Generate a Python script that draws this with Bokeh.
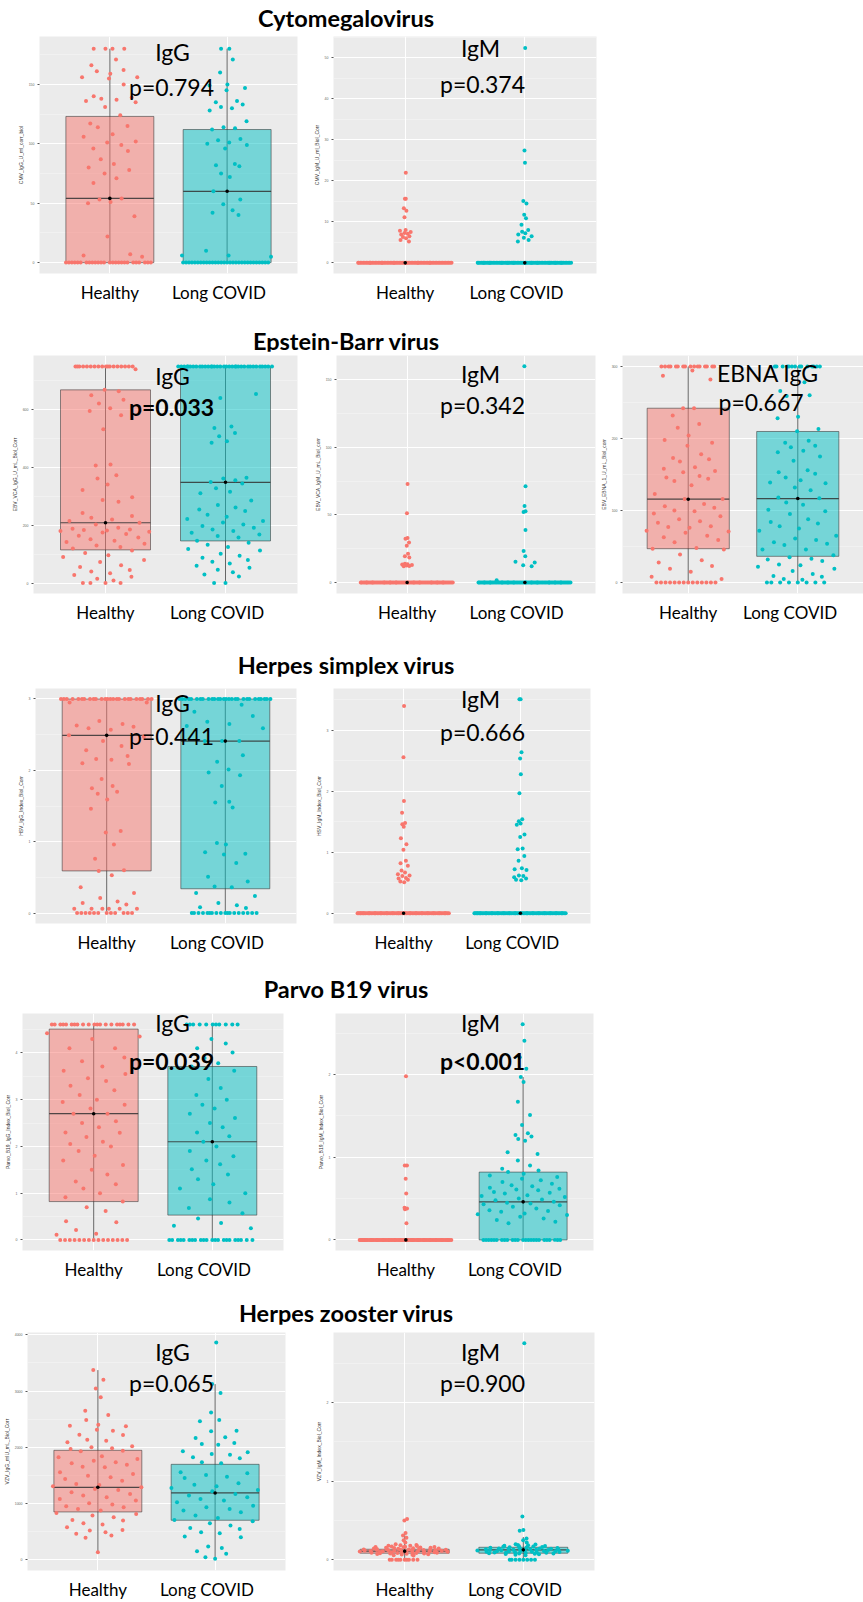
import numpy as np
from bokeh.plotting import figure
from bokeh.layouts import column, row
from bokeh.models import Div, Range1d, FixedTicker, Label
from bokeh.embed import file_html
from bokeh.resources import INLINE

# ---------------- data ----------------
GROUPS = ["Healthy", "Long COVID"]
COLORS = ["#F8766D", "#00BFC4"]
TITLES = ["Cytomegalovirus", "Epstein-Barr virus", "Herpes simplex virus",
          "Parvo B19 virus", "Herpes zooster virus"]

# box stats: [whisker_low, q1, median, q3, whisker_high]
# --- CMV IgG
CMV_IGG_TICKS = [0, 50, 100, 150]
CMV_IGG_RANGE = [-9.2, 190.3]
CMV_IGG_H = [180]*4 + [171, 166, 162, 161, 159, 156, 156, 155, 150, 140, 139, 138, 137, 136, 135, 131,
                       124, 117, 115, 114, 108, 106, 102, 101, 99, 96, 94, 87, 83, 80, 78, 75, 71, 67,
                       54, 53, 51, 50, 39, 22, 7, 6, 5] + [0]*26
CMV_IGG_LC = [180]*2 + [171, 160, 150, 149, 147, 145, 136, 135, 133, 131, 130, 128, 119, 114, 113, 112,
                        104, 103, 101, 100, 99, 96, 83, 82, 81, 75, 72, 60, 53, 49, 44, 42, 40,
                        10, 6, 6, 5] + [0]*30
CMV_IGG_BOX_H = [0, 0, 54, 123, 180]
CMV_IGG_BOX_LC = [0, 0, 60, 112, 180]

# --- CMV IgM
CMV_IGM_TICKS = [0, 10, 20, 30, 40, 50]
CMV_IGM_RANGE = [-2.6, 55.2]
CMV_IGM_H = [22.0, 15.6, 15.6, 13.3, 12.7, 11.1, 8.0, 7.8, 7.5, 7.3, 7.1, 6.9, 6.5, 6.3, 6.0, 5.6, 5.2] + [0]*70
CMV_IGM_LC = [52.4, 27.4, 24.4, 15.1, 14.5, 11.7, 10.9, 9.3, 8.0, 7.6, 7.2, 6.9, 6.5, 6.1, 5.6, 5.2] + [0]*75
CMV_IGM_BOX_H = [0, 0, 0, 0, 0]
CMV_IGM_BOX_LC = [0, 0, 0, 0, 0]

# --- EBV VCA IgG
EBV_IGG_TICKS = [0, 200, 400, 600]
EBV_IGG_RANGE = [-36, 788]
EBV_IGG_H = [750]*18 + [740, 669, 664, 650, 635, 622, 605, 596, 581, 533, 411, 407, 373, 362, 341, 322,
                        297, 288, 282, 243, 232, 226, 220, 215, 209, 203, 192, 188, 186, 184, 182, 180,
                        178, 175, 170, 164, 158, 152, 147, 142, 136, 130, 125, 120, 113, 104, 96, 90,
                        80, 73, 62, 56, 45, 40, 34, 28, 22, 15, 9, 0, 0, 0, 0]
EBV_IGG_LC = [750]*35 + [655, 641, 542, 537, 520, 508, 491, 486, 365, 362, 356, 350, 345, 328, 316, 311,
                         286, 270, 262, 255, 250, 237, 230, 222, 215, 210, 203, 198, 192, 186, 180, 174,
                         168, 163, 158, 147, 140, 133, 125, 118, 113, 102, 95, 88, 80, 74, 68, 60, 53,
                         46, 38, 30, 23, 0, 0]
EBV_IGG_BOX_H = [0, 115, 209, 669, 750]
EBV_IGG_BOX_LC = [0, 146, 349, 750, 750]

# --- EBV VCA IgM
EBV_IGM_TICKS = [0, 50, 100, 150]
EBV_IGM_RANGE = [-8.1, 168]
EBV_IGM_H = [72.9, 51.2, 33.0, 32.5, 29.6, 27.3, 21.4, 19.5, 18.5, 14.0, 13.6, 13.3, 12.9, 12.6, 12.3, 12.0] + [0]*75
EBV_IGM_LC = [160, 71.2, 56.7, 52.7, 52.2, 38.9, 23.4, 19.5, 15.3, 14.8, 12.8, 12.0, 1.7] + [0]*75
EBV_IGM_BOX_H = [0, 0, 0, 0, 0]
EBV_IGM_BOX_LC = [0, 0, 0, 0, 0]

# --- EBV EBNA IgG
EBNA_TICKS = [0, 100, 200, 300]
EBNA_RANGE = [-15.2, 315.2]
EBNA_H = [300]*16 + [294.5, 287, 282, 242, 242, 232, 220, 215, 204, 198, 194, 190, 178, 173, 171, 168,
                     160, 158, 155, 153, 148, 146, 144, 141, 135, 123, 116, 116, 109, 106, 104, 100, 99,
                     96, 92, 88, 85, 83, 78, 77, 76, 72, 71, 69, 65, 63, 59, 56, 48, 47, 46, 39, 31, 28,
                     23, 19, 15, 8, 5] + [0]*14
EBNA_LC = [300]*14 + [278, 266, 260, 259, 230, 228, 213, 210, 197, 194, 190, 188, 183, 181, 175, 169,
                      156, 153, 151, 146, 142, 139, 138, 132, 128, 118, 117, 111, 108, 101, 99, 95, 88,
                      84, 82, 78, 75, 72, 65, 61, 59, 56, 54, 52, 46, 46, 38, 35, 33, 32, 30, 25, 24,
                      22, 19, 16, 12, 9, 8, 5, 4] + [0]*8
EBNA_BOX_H = [0, 47, 115.7, 242, 300]
EBNA_BOX_LC = [0, 36.4, 116.6, 209.7, 300]

# --- HSV IgG
HSV_IGG_TICKS = [0, 1, 2, 3]
HSV_IGG_RANGE = [-0.147, 3.147]
HSV_IGG_H = [3.0]*25 + [2.95, 2.95, 2.69, 2.65, 2.63, 2.61, 2.59, 2.57, 2.49, 2.47, 2.41, 2.34, 2.28, 2.2,
                        2.16, 2.15, 2.1, 2.09, 1.88, 1.78, 1.75, 1.7, 1.67, 1.59, 1.46, 1.15, 1.13, 0.96,
                        0.76, 0.6, 0.59, 0.53, 0.36, 0.28, 0.21, 0.16, 0.14, 0.12, 0.06, 0.06, 0.06,
                        0.06, 0.06, 0.06] + [0]*12
HSV_IGG_LC = [3.0]*28 + [2.92, 2.82, 2.76, 2.68, 2.65, 2.62, 2.59, 2.41, 2.41, 2.41, 2.21, 2.12, 2.01,
                         1.97, 1.93, 1.78, 1.56, 1.55, 1.48, 0.98, 0.96, 0.85, 0.83, 0.82, 0.7, 0.51,
                         0.44, 0.37, 0.36, 0.28, 0.24, 0.14, 0.11, 0.08, 0.07] + [0]*18
HSV_IGG_BOX_H = [0, 0.59, 2.49, 3.0, 3.0]
HSV_IGG_BOX_LC = [0, 0.34, 2.41, 3.0, 3.0]

# --- HSV IgM
HSV_IGM_TICKS = [0, 1, 2, 3]
HSV_IGM_RANGE = [-0.168, 3.686]
HSV_IGM_H = [3.4, 2.56, 1.84, 1.65, 1.48, 1.46, 1.42, 1.23, 1.13, 1.04, 0.86, 0.82, 0.78, 0.70, 0.67,
             0.64, 0.62, 0.61, 0.58, 0.57, 0.55, 0.52, 0.51] + [0]*80
HSV_IGM_LC = [3.51, 3.51, 2.64, 2.54, 2.28, 1.97, 1.54, 1.51, 1.47, 1.45, 1.29, 1.25, 1.06, 1.05, 0.94,
              0.86, 0.74, 0.72, 0.71, 0.62, 0.61, 0.59, 0.57, 0.55, 0.54] + [0]*80
HSV_IGM_BOX_H = [0, 0, 0, 0, 0]
HSV_IGM_BOX_LC = [0, 0, 0, 0, 0]

# --- Parvo B19 IgG
PARVO_IGG_TICKS = [0, 1, 2, 3, 4]
PARVO_IGG_RANGE = [-0.227, 4.844]
PARVO_IGG_H = [4.61]*20 + [4.42, 4.35, 4.3, 4.1, 4.1, 3.9, 3.82, 3.71, 3.62, 3.55, 3.46, 3.4, 3.3, 3.2,
                           3.1, 3.0, 2.95, 2.89, 2.81, 2.7, 2.7, 2.54, 2.5, 2.41, 2.3, 2.29, 2.2, 2.1,
                           2.05, 2.0, 1.9, 1.8, 1.7, 1.6, 1.5, 1.4, 1.25, 1.19, 1.1, 1.0, 0.91, 0.82,
                           0.7, 0.62, 0.4, 0.38, 0.21, 0.13, 0.11] + [0]*15
PARVO_IGG_LC = [4.61]*11 + [4.3, 4.2, 4.1, 4.01, 3.89, 3.78, 3.71, 3.62, 3.44, 3.25, 3.1, 3.0, 2.89,
                            2.81, 2.7, 2.61, 2.5, 2.41, 2.3, 2.22, 2.1, 2.0, 1.9, 1.79, 1.7, 1.62, 1.51,
                            1.4, 1.3, 1.19, 1.1, 1.0, 0.87, 0.8, 0.68, 0.57, 0.46, 0.36, 0.3, 0.25] + [0]*22
PARVO_IGG_BOX_H = [0, 0.82, 2.70, 4.51, 4.61]
PARVO_IGG_BOX_LC = [0, 0.53, 2.1, 3.71, 4.61]

# --- Parvo B19 IgM
PARVO_IGM_TICKS = [0, 1, 2]
PARVO_IGM_RANGE = [-0.1285, 2.739]
PARVO_IGM_H = [1.98, 0.9, 0.9, 0.74, 0.56, 0.39, 0.38, 0.37, 0.2] + [0]*80
PARVO_IGM_LC = [2.61, 2.41, 2.21, 2.07, 1.97, 1.91, 1.67, 1.51, 1.39, 1.29, 1.27, 1.25, 1.22, 1.2, 1.06,
                1.04, 0.96, 0.9, 0.86, 0.84, 0.82, 0.8, 0.78, 0.76, 0.74, 0.72, 0.7, 0.68, 0.66, 0.65,
                0.63, 0.62, 0.61, 0.6, 0.58, 0.57, 0.56, 0.54, 0.53, 0.52, 0.5, 0.49, 0.48, 0.46, 0.45,
                0.44, 0.43, 0.42, 0.4, 0.38, 0.36, 0.35, 0.34, 0.32, 0.31, 0.3, 0.28, 0.26, 0.24, 0.22,
                0.2] + [0]*25
PARVO_IGM_BOX_H = [0, 0, 0, 0, 0]
PARVO_IGM_BOX_LC = [0, 0, 0.46, 0.82, 1.97]

# --- VZV IgG
VZV_IGG_TICKS = [0, 1000, 2000, 3000, 4000]
VZV_IGG_RANGE = [-189, 4041]
VZV_IGG_H = [3373, 3201, 3047, 2888, 2651, 2574, 2485, 2402, 2385, 2373, 2314, 2296, 2225, 2219, 2136,
             2118, 2089, 2018, 2000, 1982, 1970, 1941, 1929, 1840, 1822, 1793, 1763, 1734, 1716, 1692,
             1657, 1645, 1556, 1527, 1497, 1467, 1438, 1408, 1349, 1331, 1308, 1290, 1260, 1243, 1201,
             1172, 1142, 1112, 1083, 1053, 1006, 982, 953, 935, 905, 876, 834, 817, 787, 757, 710, 698,
             651, 627, 580, 533, 521, 491, 462, 432, 391, 136]
VZV_IGG_LC = [3864, 3124, 2964, 2621, 2485, 2462, 2296, 2284, 2178, 2166, 2077, 2059, 2047, 1929, 1911,
              1882, 1870, 1822, 1805, 1734, 1716, 1556, 1538, 1509, 1479, 1456, 1361, 1337, 1308, 1278,
              1243, 1219, 1172, 1142, 1112, 1083, 1053, 1024, 964, 935, 905, 876, 846, 787, 746, 710,
              686, 651, 609, 568, 550, 491, 473, 414, 402, 237, 213, 154, 107, 47, 18]
VZV_IGG_BOX_H = [136, 852, 1290, 1947, 3373]
VZV_IGG_BOX_LC = [18, 704, 1189, 1698, 3124]

# --- VZV IgM
VZV_IGM_TICKS = [0, 1, 2]
VZV_IGM_RANGE = [-0.135, 2.888]
VZV_IGM_H = [0.52, 0.50, 0.34, 0.31, 0.28, 0.25, 0.22, 0.20, 0.19, 0.185, 0.18, 0.178, 0.175, 0.17,
             0.168, 0.165, 0.163, 0.16, 0.158, 0.155, 0.153, 0.15, 0.148, 0.146, 0.144, 0.142, 0.14,
             0.139, 0.137, 0.135, 0.133, 0.131, 0.13, 0.128, 0.126, 0.125, 0.123, 0.121, 0.12, 0.118,
             0.117, 0.115, 0.113, 0.112, 0.11, 0.109, 0.107, 0.106, 0.104, 0.102, 0.1, 0.099, 0.097,
             0.095, 0.094, 0.092, 0.09, 0.088, 0.086, 0.084, 0.082, 0.08, 0.078, 0.075, 0.072, 0.068,
             0.064, 0.06, 0.055] + [0]*10
VZV_IGM_LC = [2.75, 0.55, 0.38, 0.37, 0.27, 0.25, 0.22, 0.20, 0.195, 0.19, 0.185, 0.18, 0.177, 0.173,
              0.17, 0.167, 0.164, 0.16, 0.157, 0.154, 0.151, 0.148, 0.145, 0.143, 0.14, 0.138, 0.136,
              0.134, 0.132, 0.13, 0.128, 0.126, 0.124, 0.122, 0.12, 0.118, 0.116, 0.114, 0.112, 0.11,
              0.108, 0.106, 0.104, 0.102, 0.1, 0.098, 0.096, 0.094, 0.092, 0.09, 0.088, 0.085, 0.082,
              0.08, 0.077, 0.074, 0.07, 0.065, 0.06] + [0]*8
VZV_IGM_BOX_H = [0, 0.085, 0.11, 0.135, 0.34]
VZV_IGM_BOX_LC = [0, 0.085, 0.127, 0.16, 0.29]

PANEL_DATA = {
    "cmv_igg": dict(h=CMV_IGG_H, lc=CMV_IGG_LC, bh=CMV_IGG_BOX_H, blc=CMV_IGG_BOX_LC, ticks=CMV_IGG_TICKS,
                    yr=CMV_IGG_RANGE, ylab="CMV_IgG_U_ml_corr_biol", ig="IgG", p="p=0.794", bold=False),
    "cmv_igm": dict(h=CMV_IGM_H, lc=CMV_IGM_LC, bh=CMV_IGM_BOX_H, blc=CMV_IGM_BOX_LC, ticks=CMV_IGM_TICKS,
                    yr=CMV_IGM_RANGE, ylab="CMV_IgM_U_ml_Biol_Corr", ig="IgM", p="p=0.374", bold=False),
    "ebv_igg": dict(h=EBV_IGG_H, lc=EBV_IGG_LC, bh=EBV_IGG_BOX_H, blc=EBV_IGG_BOX_LC, ticks=EBV_IGG_TICKS,
                    yr=EBV_IGG_RANGE, ylab="EBV_VCA_IgG_U_mL_Biol_Corr", ig="IgG", p="p=0.033", bold=True),
    "ebv_igm": dict(h=EBV_IGM_H, lc=EBV_IGM_LC, bh=EBV_IGM_BOX_H, blc=EBV_IGM_BOX_LC, ticks=EBV_IGM_TICKS,
                    yr=EBV_IGM_RANGE, ylab="EBV_VCA_IgM_U_mL_Biol_corr", ig="IgM", p="p=0.342", bold=False),
    "ebna": dict(h=EBNA_H, lc=EBNA_LC, bh=EBNA_BOX_H, blc=EBNA_BOX_LC, ticks=EBNA_TICKS,
                 yr=EBNA_RANGE, ylab="EBV_EBNA_1_U_mL_Biol_corr", ig="EBNA IgG", p="p=0.667", bold=False),
    "hsv_igg": dict(h=HSV_IGG_H, lc=HSV_IGG_LC, bh=HSV_IGG_BOX_H, blc=HSV_IGG_BOX_LC, ticks=HSV_IGG_TICKS,
                    yr=HSV_IGG_RANGE, ylab="HSV_IgG_Index_Biol_Corr", ig="IgG", p="p=0.441", bold=False),
    "hsv_igm": dict(h=HSV_IGM_H, lc=HSV_IGM_LC, bh=HSV_IGM_BOX_H, blc=HSV_IGM_BOX_LC, ticks=HSV_IGM_TICKS,
                    yr=HSV_IGM_RANGE, ylab="HSV_IgM_Index_Biol_Corr", ig="IgM", p="p=0.666", bold=False),
    "parvo_igg": dict(h=PARVO_IGG_H, lc=PARVO_IGG_LC, bh=PARVO_IGG_BOX_H, blc=PARVO_IGG_BOX_LC,
                      ticks=PARVO_IGG_TICKS, yr=PARVO_IGG_RANGE, ylab="Parvo_B19_IgG_Index_Biol_Corr",
                      ig="IgG", p="p=0.039", bold=True),
    "parvo_igm": dict(h=PARVO_IGM_H, lc=PARVO_IGM_LC, bh=PARVO_IGM_BOX_H, blc=PARVO_IGM_BOX_LC,
                      ticks=PARVO_IGM_TICKS, yr=PARVO_IGM_RANGE, ylab="Parvo_B19_IgM_Index_Biol_Corr",
                      ig="IgM", p="p<0.001", bold=True),
    "vzv_igg": dict(h=VZV_IGG_H, lc=VZV_IGG_LC, bh=VZV_IGG_BOX_H, blc=VZV_IGG_BOX_LC, ticks=VZV_IGG_TICKS,
                    yr=VZV_IGG_RANGE, ylab="VZV_IgG_mIU_mL_Biol_Corr", ig="IgG", p="p=0.065", bold=False),
    "vzv_igm": dict(h=VZV_IGM_H, lc=VZV_IGM_LC, bh=VZV_IGM_BOX_H, blc=VZV_IGM_BOX_LC, ticks=VZV_IGM_TICKS,
                    yr=VZV_IGM_RANGE, ylab="VZV_IgM_Index_Biol_Corr", ig="IgM", p="p=0.900", bold=False),
}

# ---------------- layout (page pixel geometry; the page origin is the window corner) ----------------
# div: (top, bottom, title line center); fig: (left, right); frame: (left, right, top, bottom)
ROWS = [
    dict(title=TITLES[0], div=(0, 30, 18), figs=(30, 331), panels=[
        dict(key="cmv_igg", fig=(0, 305), frame=(39, 297, 33, 273), ann=((172, 49), (171, 84))),
        dict(key="cmv_igm", fig=(305, 610), frame=(333, 596, 36, 274), ann=((480, 48), (482, 84))),
    ]),
    dict(title=TITLES[1], div=(331, 351, 341), figs=(351, 654), panels=[
        dict(key="ebv_igg", fig=(0, 300), frame=(33, 297, 351, 594), ann=((172, 372), (171, 404))),
        dict(key="ebv_igm", fig=(300, 597), frame=(336, 595, 355, 593), ann=((480, 373), (482, 404))),
        dict(key="ebna", fig=(597, 863), frame=(616, 863, 354, 593), ann=((765, 372), (758, 401))),
    ]),
    dict(title=TITLES[2], div=(654, 676, 665), figs=(676, 978), panels=[
        dict(key="hsv_igg", fig=(0, 305), frame=(35, 296, 684, 923), ann=((172, 699), (171, 732))),
        dict(key="hsv_igm", fig=(305, 610), frame=(333, 590, 688, 926), ann=((480, 699), (482, 732))),
    ]),
    dict(title=TITLES[3], div=(978, 1000, 989), figs=(1000, 1302), panels=[
        dict(key="parvo_igg", fig=(0, 300), frame=(22, 283, 1012, 1250), ann=((172, 1022), (171, 1060))),
        dict(key="parvo_igm", fig=(300, 610), frame=(335, 593, 1013, 1251), ann=((480, 1023), (482, 1061))),
    ]),
    dict(title=TITLES[4], div=(1302, 1324, 1313), figs=(1324, 1602), panels=[
        dict(key="vzv_igg", fig=(0, 300), frame=(27, 285, 1332, 1570), ann=((172, 1351), (171, 1382))),
        dict(key="vzv_igm", fig=(300, 610), frame=(333, 594, 1332, 1570), ann=((480, 1351), (482, 1382))),
    ]),
]
TITLE_CENTER_X = 346
LABEL_TICKS = [1.0, 1.93]   # where the pasted-in group labels sit under the panels

FONT = "Lato"
XR = (0.4, 2.6)
HALF_BOX = 0.375


def vdc(n, base=2):
    v, denom = 0.0, 1.0
    while n:
        denom *= base
        n, r = divmod(n, base)
        v += r / denom
    return v


def quasirandom_offsets(vals, max_w=0.4):
    """Deterministic density-scaled horizontal offsets (like ggbeeswarm quasirandom)."""
    y = np.asarray(vals, float)
    n = len(y)
    sd = y.std(ddof=1) if n > 1 else 1.0
    q75, q25 = np.percentile(y, [75, 25])
    lo = min(sd, (q75 - q25) / 1.34)
    if lo <= 0:
        lo = sd if sd > 0 else 1.0
    bw = 0.9 * lo * n ** -0.2
    d = np.exp(-0.5 * ((y[:, None] - y[None, :]) / bw) ** 2).sum(1)
    w = max_w * d / d.max()
    order = np.argsort(y, kind="stable")
    off = np.empty(n)
    for k, idx in enumerate(order):
        off[idx] = (vdc(k + 1) * 2 - 1) * w[idx]
    return off


def make_panel(spec, fig_top, fig_bottom):
    D = PANEL_DATA[spec["key"]]
    fx0, fx1, fy0, fy1 = spec["frame"]
    gx0, gx1 = spec["fig"]
    ylo, yhi = D["yr"]
    p = figure(width=gx1 - gx0, height=fig_bottom - fig_top,
               x_range=Range1d(*XR), y_range=Range1d(ylo, yhi),
               output_backend="svg", toolbar_location=None,
               min_border_left=fx0 - gx0, min_border_right=gx1 - fx1,
               min_border_top=fy0 - fig_top, min_border_bottom=fig_bottom - fy1,
               background_fill_color="#EBEBEB", border_fill_color="white",
               outline_line_color=None)
    ticks = D["ticks"]
    step = ticks[1] - ticks[0]
    minors = [t + step / 2 for t in ticks] + [ticks[0] - step / 2]
    minors = [m for m in minors if ylo < m < yhi]
    p.yaxis.ticker = FixedTicker(ticks=ticks, minor_ticks=minors)
    p.xaxis.ticker = FixedTicker(ticks=LABEL_TICKS)
    p.xaxis.major_label_overrides = {LABEL_TICKS[0]: GROUPS[0], LABEL_TICKS[1]: GROUPS[1]}
    p.xgrid.ticker = FixedTicker(ticks=[1, 2])
    p.xgrid.grid_line_color = "white"
    p.xgrid.grid_line_width = 1
    p.ygrid.grid_line_color = "white"
    p.ygrid.grid_line_width = 1
    p.ygrid.minor_grid_line_color = "white"
    p.ygrid.minor_grid_line_alpha = 0.6
    p.ygrid.minor_grid_line_width = 0.5

    xa = p.xaxis[0]
    xa.axis_line_color = None
    xa.major_tick_out = 0
    xa.major_tick_in = 0
    xa.minor_tick_line_color = None
    xa.major_label_text_font = FONT
    xa.major_label_text_font_size = "17px"
    xa.major_label_text_color = "black"
    xa.major_label_standoff = 8

    ya = p.yaxis[0]
    ya.axis_line_color = None
    ya.major_tick_out = 2
    ya.major_tick_in = 0
    ya.major_tick_line_color = "#555555"
    ya.minor_tick_line_color = None
    ya.major_label_text_font_size = "3.5px"
    ya.major_label_text_color = "#666666"
    ya.major_label_standoff = 1
    ya.axis_label = D["ylab"]
    ya.axis_label_text_font_size = "5px"
    ya.axis_label_text_font_style = "normal"
    ya.axis_label_text_color = "#333333"
    ya.axis_label_standoff = 2

    for gi, (vals, box) in enumerate([(D["h"], D["bh"]), (D["lc"], D["blc"])]):
        cx = gi + 1
        wlo, q1, med, q3, whi = box
        p.segment(x0=[cx], y0=[wlo], x1=[cx], y1=[whi], line_color="#333333",
                  line_alpha=0.75, line_width=1)
        p.quad(left=[cx - HALF_BOX], right=[cx + HALF_BOX], bottom=[q1], top=[q3],
               fill_color=COLORS[gi], fill_alpha=0.5, line_color="#333333",
               line_alpha=0.55, line_width=1)
        p.segment(x0=[cx - HALF_BOX], y0=[med], x1=[cx + HALF_BOX], y1=[med],
                  line_color="#333333", line_alpha=0.85, line_width=1.2)
        off = quasirandom_offsets(vals)
        xs = cx + off
        p.scatter(x=list(xs), y=list(vals), size=4, fill_color=COLORS[gi],
                  line_color=None)
        p.scatter(x=[cx], y=[med], size=3.6, fill_color="black", line_color=None)

    def to_data(px, py):
        x = XR[0] + (px - fx0) / (fx1 - fx0) * (XR[1] - XR[0])
        y = yhi - (py - fy0) / (fy1 - fy0) * (yhi - ylo)
        return x, y

    (ax, ay), (bx, by) = spec["ann"]
    x1, y1 = to_data(ax, ay)
    x2, y2 = to_data(bx, by)
    p.add_layout(Label(x=x1, y=y1, text=D["ig"], text_font=FONT, text_font_size="23px",
                       text_align="center", text_baseline="middle", text_color="black"))
    p.add_layout(Label(x=x2, y=y2, text=D["p"], text_font=FONT, text_font_size="23px",
                       text_font_style="bold" if D["bold"] else "normal",
                       text_align="center", text_baseline="middle", text_color="black"))
    return p


children = []
for R in ROWS:
    d0, d1, tc = R["div"]
    lh = 20
    pad = tc - d0 - lh // 2
    html = ('<div style="width:%dpx;text-align:center;font-family:Lato;font-weight:bold;'
            'font-size:23.5px;line-height:%dpx;padding-top:%dpx;white-space:nowrap;color:black;">%s</div>'
            % (2 * TITLE_CENTER_X, lh, pad, R["title"]))
    children.append(Div(text=html, width=2 * TITLE_CENTER_X, height=d1 - d0, margin=0))
    f0, f1 = R["figs"]
    figs = [make_panel(s, f0, f1) for s in R["panels"]]
    children.append(row(figs, spacing=0))

layout = column(children, spacing=0)
open("out.html", "w").write(file_html(layout, INLINE, title="Antibody panels"))
